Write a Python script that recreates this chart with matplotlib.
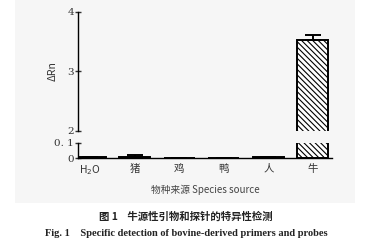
import matplotlib.pyplot as plt
from matplotlib.patches import Rectangle
import matplotlib as mpl

plt.rcParams['font.family'] = ['Noto Sans CJK SC', 'DejaVu Sans']
mpl.rcParams['hatch.linewidth'] = 0.8

# data
categories = ['H$_2$O', '猪', '鸡', '鸭', '人', '牛']
values = [0.004, 0.010, 0.003, 0.003, 0.006, 3.53]
errors = [0.002, 0.008, 0.0, 0.0, 0.002, 0.08]
upper_ticks = [2, 3, 4]
lower_ticks = [0, 0.1]

x = list(range(len(categories)))
W, H = 373, 240
fig = plt.figure(figsize=(W / 100, H / 100), dpi=100, facecolor='white')

# light grey panel behind the chart
fig.patches.append(Rectangle((15 / W, 1 - 203 / H), 340 / W, 203 / H,
                             transform=fig.transFigure, facecolor='#f6f6f6',
                             edgecolor='none', zorder=-5))

left, right = 78 / W, 332 / W
ax_top = fig.add_axes([left, 1 - 131 / H, right - left, 119 / H])
ax_bot = fig.add_axes([left, 1 - 158 / H, right - left, 15 / H])

for ax in (ax_top, ax_bot):
    ax.patch.set_alpha(0)
    colors = ['black'] * 5 + ['white']
    bars = ax.bar(x, values, width=0.7, color=colors, edgecolor='black',
                  linewidth=1.4, zorder=3)
    bars[-1].set_hatch('\\\\\\\\\\\\')
    ax.errorbar(x, values, yerr=[[0] * len(errors), errors], fmt='none',
                ecolor='black', elinewidth=1.4, capsize=6, capthick=1.4, zorder=4)
    ax.set_xlim(-0.27, 5.43)
    for s in ('top', 'right'):
        ax.spines[s].set_visible(False)
    ax.spines['left'].set_linewidth(1.0)
    ax.tick_params(axis='y', direction='inout', length=4, width=1.0,
                   labelsize=7.5, pad=1, colors='#333333')

ax_top.set_ylim(2, 4)
ax_top.set_yticks(upper_ticks)
ax_top.spines['bottom'].set_visible(False)
ax_top.set_xticks([])
ax_top.set_ylabel('ΔRn', fontsize=7.5, labelpad=7, color='#333333')

ax_bot.set_ylim(0, 0.1)
ax_bot.set_yticks(lower_ticks)
ax_bot.set_yticklabels(['0', '0. 1'], family=['DejaVu Serif'])
ax_bot.spines['bottom'].set_linewidth(1.0)
ax_bot.set_xticks(x)
ax_bot.set_xticklabels(categories, fontsize=7.5, color='#333333')
ax_bot.tick_params(axis='x', length=0, pad=4)
for lab in ax_top.get_yticklabels():
    lab.set_family(['DejaVu Serif'])

fig.text(205 / W, 1 - 190 / H, '物种来源 Species source', ha='center', va='center',
         fontsize=7, color='#444444')
fig.text(186 / W, 1 - 217 / H, '图 1    牛源性引物和探针的特异性检测', ha='center',
         va='center', fontsize=7.5, fontweight='bold', color='#222222')
fig.text(186 / W, 1 - 233 / H,
         'Fig. 1    Specific detection of bovine-derived primers and probes',
         ha='center', va='center', fontsize=7.5, fontweight='bold',
         family=['Liberation Serif'], color='#222222')

fig.savefig('out.png', dpi=100, facecolor='white')
